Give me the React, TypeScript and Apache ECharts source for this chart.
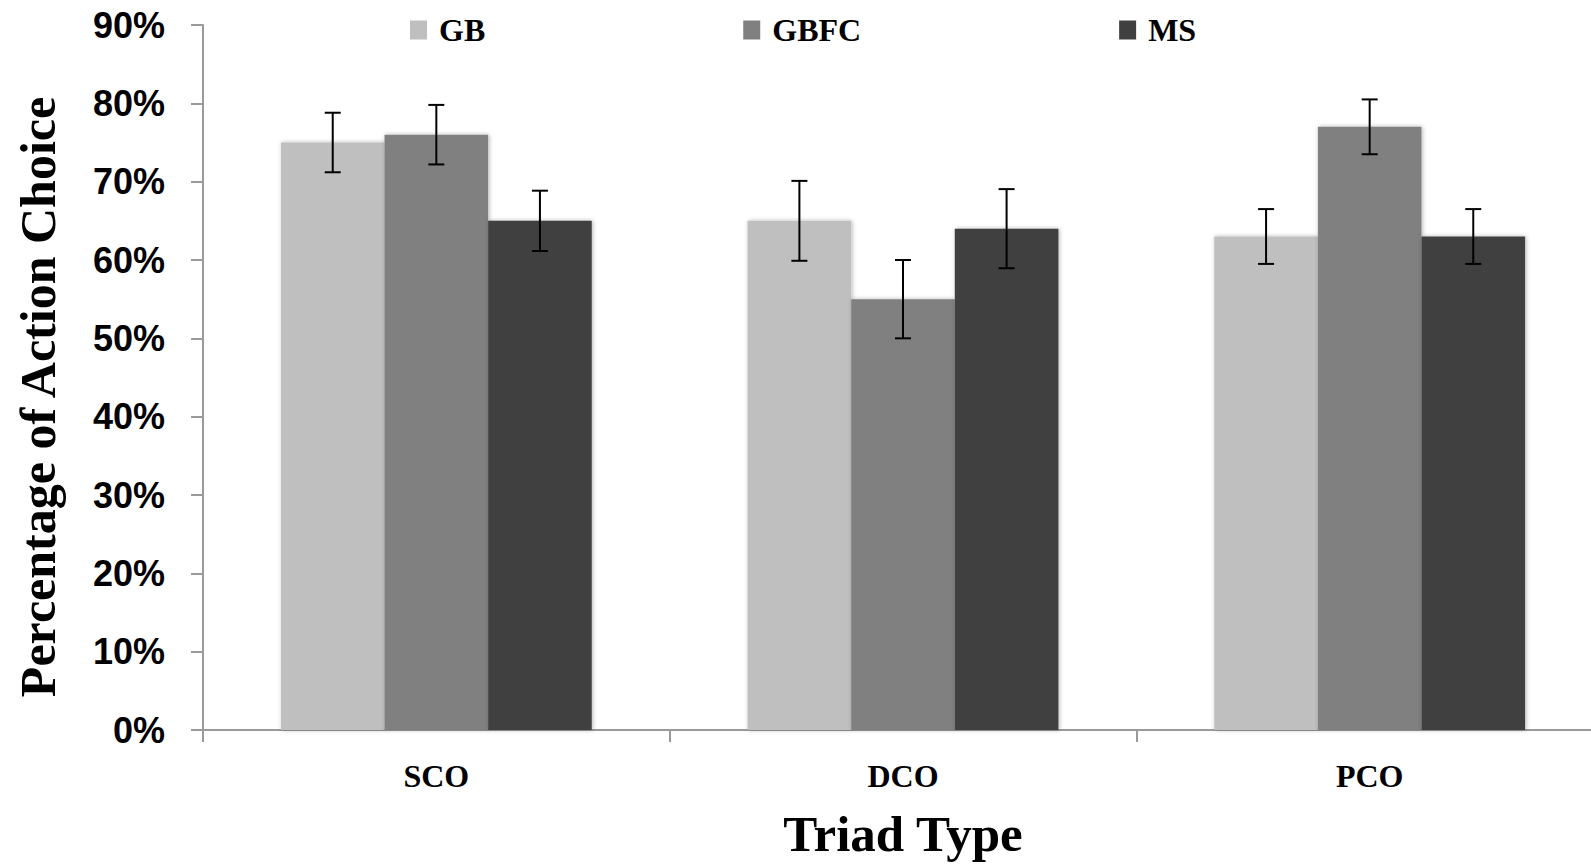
import React, { useEffect, useRef } from "react";
import * as echarts from "echarts";

const categories = ["SCO", "DCO", "PCO"];
const seriesNames = ["GB", "GBFC", "MS"];
const gbValues = [75, 65, 63];
const gbfcValues = [76, 55, 77];
const msValues = [65, 64, 63];
const gbErrors = [3.8, 5.1, 3.5];
const gbfcErrors = [3.8, 5.0, 3.5];
const msErrors = [3.85, 5.05, 3.5];
const yTicks = [0, 10, 20, 30, 40, 50, 60, 70, 80, 90];
const colors = ["#bfbfbf", "#808080", "#404040"];

const BAR_GAP_RATIO = 0.334;

export default function App() {
  const ref = useRef<HTMLDivElement>(null);
  useEffect(() => {
    if (!ref.current) return;
    const chart = echarts.init(ref.current, undefined, { renderer: "svg" });
    const values = [gbValues, gbfcValues, msValues];
    const errors = [gbErrors, gbfcErrors, msErrors];

    const barSeries = seriesNames.map((name, i) => ({
      name,
      type: "bar",
      data: values[i],
      barGap: "0%",
      barCategoryGap: BAR_GAP_RATIO * 100 + "%",
      itemStyle: {
        color: colors[i],
        shadowBlur: 4,
        shadowColor: "rgba(0,0,0,0.3)",
        shadowOffsetX: 1,
      },
    }));

    const errSeries = seriesNames.map((name, i) => ({
      name: name + "_err",
      type: "custom",
      z: 10,
      data: categories.map((_, c) => [c, values[i][c], errors[i][c]]),
      encode: { x: 0, y: 1 },
      renderItem: (params: any, api: any) => {
        const c = api.value(0);
        const v = api.value(1);
        const e = api.value(2);
        const catW = api.size([1, 0])[0];
        const barW = (catW * (1 - BAR_GAP_RATIO)) / 3;
        const center = api.coord([c, v]);
        const x = center[0] + (i - 1) * barW;
        const yTop = api.coord([c, v + e])[1];
        const yBot = api.coord([c, v - e])[1];
        const cap = 8;
        const style = { stroke: "#000", lineWidth: 2 };
        return {
          type: "group",
          children: [
            { type: "line", shape: { x1: x, y1: yTop, x2: x, y2: yBot }, style },
            { type: "line", shape: { x1: x - cap, y1: yTop, x2: x + cap, y2: yTop }, style },
            { type: "line", shape: { x1: x - cap, y1: yBot, x2: x + cap, y2: yBot }, style },
          ],
        };
      },
    }));

    chart.setOption({
      animation: false,
      backgroundColor: "#ffffff",
      legend: {
        data: seriesNames,
        left: 405,
        top: 9,
        itemWidth: 17,
        itemHeight: 19,
        itemGap: 258,
        icon: "rect",
        textStyle: {
          fontFamily: "Liberation Serif",
          fontWeight: "bold",
          fontSize: 32,
          color: "#000",
          padding: [0, 0, 0, 7],
        },
      },
      grid: {
        left: 203,
        width: 1400,
        top: 25,
        bottom: 134,
        containLabel: false,
        outerBoundsMode: "none",
      },
      xAxis: {
        type: "category",
        data: categories,
        axisLine: { lineStyle: { color: "#9a9a9a", width: 2 } },
        axisTick: { show: true, length: 12, lineStyle: { color: "#9a9a9a", width: 2 } },
        axisLabel: {
          margin: 30,
          fontFamily: "Liberation Serif",
          fontWeight: "bold",
          fontSize: 32,
          color: "#000",
        },
      },
      yAxis: {
        type: "value",
        min: yTicks[0],
        max: yTicks[yTicks.length - 1],
        interval: 10,
        axisLine: { show: true, lineStyle: { color: "#9a9a9a", width: 2 } },
        axisTick: { show: true, length: 12, lineStyle: { color: "#9a9a9a", width: 2 } },
        splitLine: { show: false },
        axisLabel: {
          margin: 38,
          formatter: "{value}%",
          fontFamily: "Liberation Sans",
          fontWeight: "bold",
          fontSize: 36,
          color: "#000",
        },
      },
      graphic: [
        {
          type: "text",
          x: 38,
          y: 397,
          rotation: Math.PI / 2,
          style: {
            text: "Percentage of Action Choice",
            fontFamily: "Liberation Serif",
            fontWeight: "bold",
            fontSize: 50,
            fill: "#000",
            align: "center",
            verticalAlign: "middle",
          },
        },
        {
          type: "text",
          x: 903,
          y: 834,
          style: {
            text: "Triad Type",
            fontFamily: "Liberation Serif",
            fontWeight: "bold",
            fontSize: 51,
            fill: "#000",
            align: "center",
            verticalAlign: "middle",
          },
        },
      ],
      series: [...barSeries, ...errSeries],
    });
    return () => chart.dispose();
  }, []);
  return (
    <div
      ref={ref}
      style={{ position: "fixed", left: 0, top: 0, width: 1591, height: 864 }}
    />
  );
}
